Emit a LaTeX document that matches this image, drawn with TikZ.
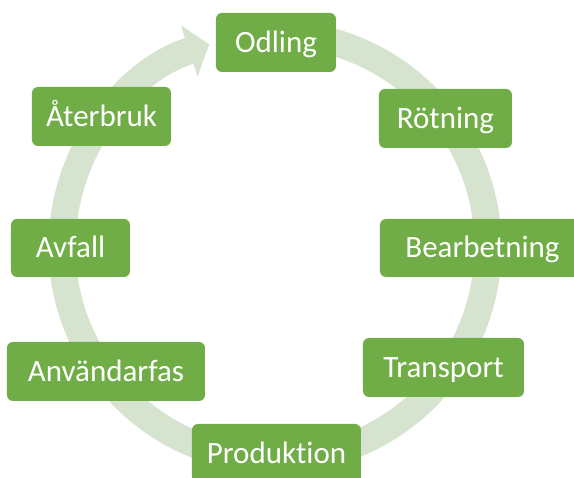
\documentclass[tikz,border=0pt]{standalone}
\usepackage{fontspec}
\setmainfont{Carlito}[Ligatures=NoCommon]
\usetikzlibrary{arrows.meta}
\definecolor{fasgron}{RGB}{112,173,71}
\definecolor{ringgron}{RGB}{214,227,207}

\begin{document}
\begin{tikzpicture}[x=1pt, y=1pt, fas/.style={fill=fasgron, rounded corners=6pt, text=white, font=\fontsize{31}{37}\selectfont, minimum height=59pt, inner sep=0pt, text height=20pt, text depth=0pt}]
\useasboundingbox (-275,-231) rectangle (299,247);
% ring
\draw[ringgron, line width=27pt, -{Triangle[width=54pt, length=21pt, line width=0pt]}] (85:213) arc[start angle=85, end angle=-252, radius=213];
% steps
\node[fas, minimum width=120pt] (odling) at (1,204.5) {Odling};
\node[fas, minimum width=133pt] (rotning) at (170.5,128.5) {Rötning};
\node[fas, minimum width=205pt, minimum height=58pt] (bearbetning) at (207.5,-1) {Bearbetning};
\node[fas, minimum width=161pt] (transport) at (168.5,-120.5) {Transport};
\node[fas, minimum width=169pt] (produktion) at (1.5,-206.5) {Produktion};
\node[fas, minimum width=198pt] (anvandarfas) at (-169,-124.5) {Användarfas};
\node[fas, minimum width=119pt, minimum height=58pt] (avfall) at (-204.5,-1) {Avfall};
\node[fas, minimum width=139pt] (aterbruk) at (-173.5,130.5) {Återbruk};
\end{tikzpicture}
\end{document}
